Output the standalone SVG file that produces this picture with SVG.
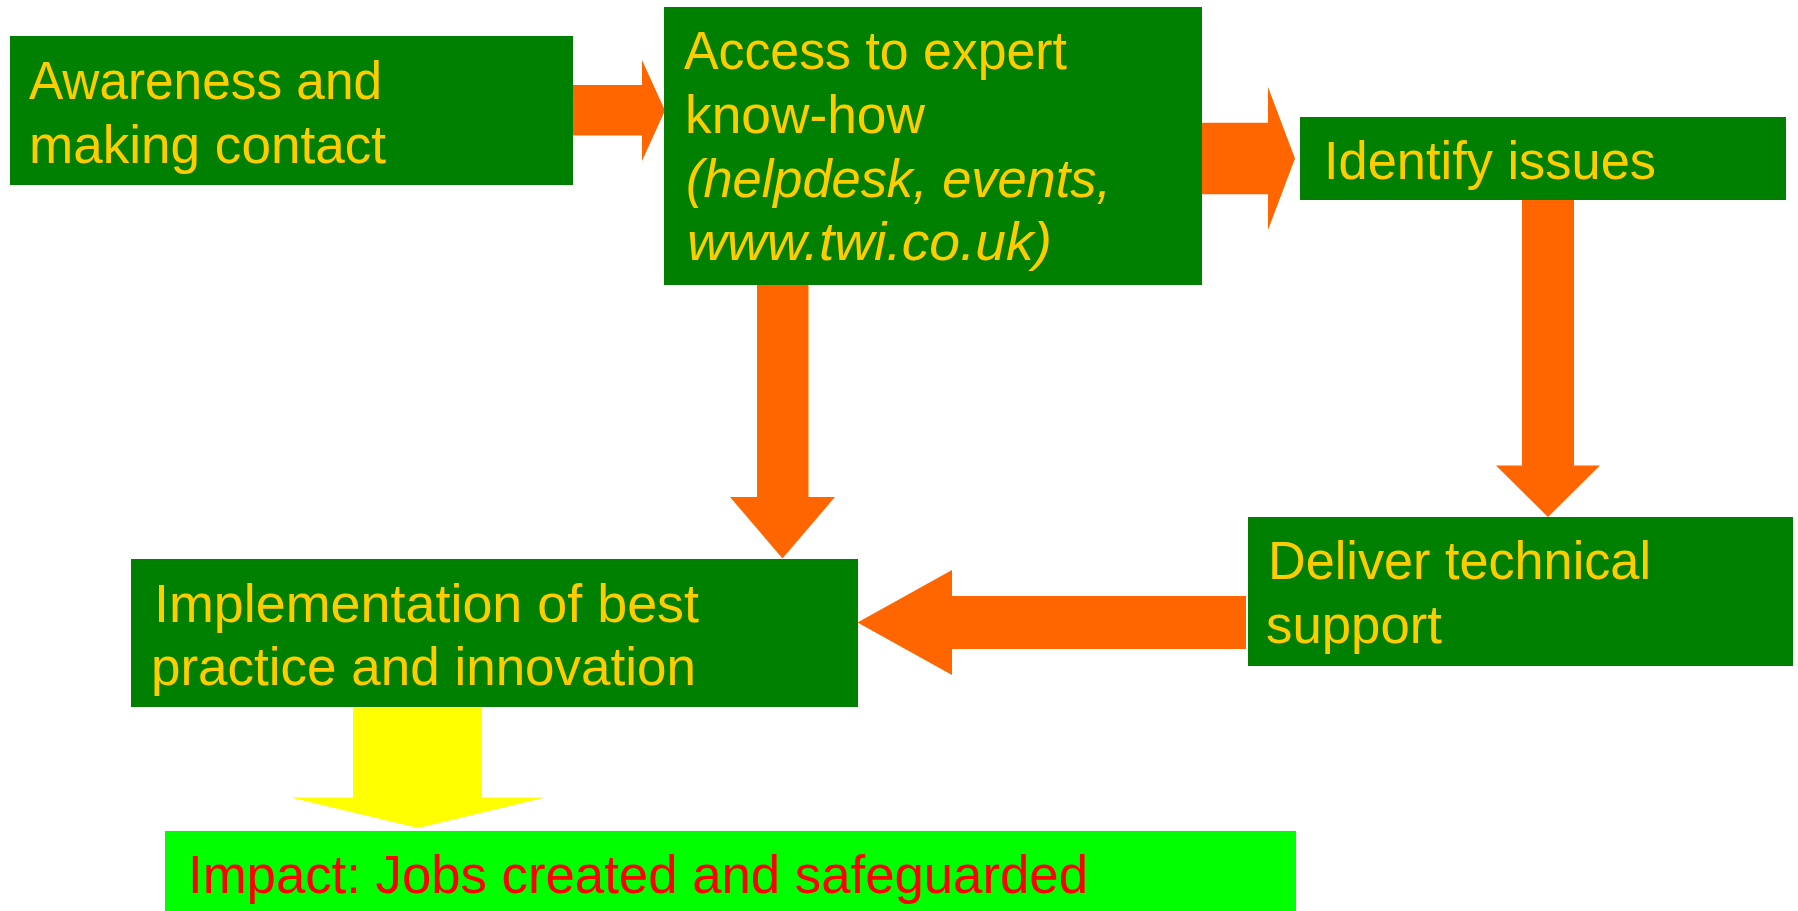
<svg xmlns="http://www.w3.org/2000/svg" width="1798" height="911" viewBox="0 0 1798 911">
<style>
.box{fill:#008000}
.impact{fill:#00FF00}
.t{font-family:"Liberation Sans",Arial,sans-serif;font-size:53px;fill:#FFCC00}
.it{font-style:italic}
.red{fill:#FF0000}
.arr{fill:#FF6600}
.yarr{fill:#FFFF00}
</style>
<rect width="1798" height="911" fill="#FFFFFF"/>
<g id="connectors">
<polygon class="arr" points="572,85 642,85 642,60 665,110.5 642,161 642,135.5 572,135.5"/>
<polygon class="arr" points="1202,122.7 1268,122.7 1268,87 1295,158.5 1268,230 1268,194.3 1202,194.3"/>
<polygon class="arr" points="1522,200 1574,200 1574,465.5 1600,465.5 1548,517 1496,465.5 1522,465.5"/>
<polygon class="arr" points="1246,596 952,596 952,570 857.5,622.5 952,675 952,649 1246,649"/>
<polygon class="arr" points="757,285 808.5,285 808.5,497 835,497 782.5,558.5 730,497 757,497"/>
<polygon class="yarr" points="353,707.7 482,707.7 482,797.5 545,797.5 418,828 290.5,797.5 353,797.5"/>
</g>
<g id="awareness">
<rect class="box" x="10" y="36" width="563" height="149"/>
<text class="t" x="29" y="99.3" textLength="353" lengthAdjust="spacingAndGlyphs">Awareness and</text>
<text class="t" x="29" y="163.3" textLength="357" lengthAdjust="spacingAndGlyphs">making contact</text>
</g>
<g id="access">
<rect class="box" x="664" y="7" width="538" height="278"/>
<text class="t" x="684" y="69.3" textLength="383" lengthAdjust="spacingAndGlyphs">Access to expert</text>
<text class="t" x="685" y="132.7" textLength="240" lengthAdjust="spacingAndGlyphs">know-how</text>
<text class="t it" x="686" y="196.7" textLength="425" lengthAdjust="spacingAndGlyphs">(helpdesk, events,</text>
<text class="t it" x="687" y="260" textLength="365" lengthAdjust="spacingAndGlyphs">www.twi.co.uk)</text>
</g>
<g id="identify">
<rect class="box" x="1300" y="117" width="486" height="83"/>
<text class="t" x="1324" y="179.3" textLength="332" lengthAdjust="spacingAndGlyphs">Identify issues</text>
</g>
<g id="deliver">
<rect class="box" x="1248" y="517" width="545" height="149"/>
<text class="t" x="1268" y="579.3" textLength="383" lengthAdjust="spacingAndGlyphs">Deliver technical</text>
<text class="t" x="1266" y="643.3" textLength="176" lengthAdjust="spacingAndGlyphs">support</text>
</g>
<g id="implementation">
<rect class="box" x="131" y="559" width="727" height="148"/>
<text class="t" x="154" y="622.3" textLength="545" lengthAdjust="spacingAndGlyphs">Implementation of best</text>
<text class="t" x="151" y="685" textLength="545" lengthAdjust="spacingAndGlyphs">practice and innovation</text>
</g>
<g id="impact">
<rect class="impact" x="165" y="831" width="1131" height="80"/>
<text class="t red" x="188" y="893.3" textLength="900" lengthAdjust="spacingAndGlyphs">Impact: Jobs created and safeguarded</text>
</g>
</svg>
